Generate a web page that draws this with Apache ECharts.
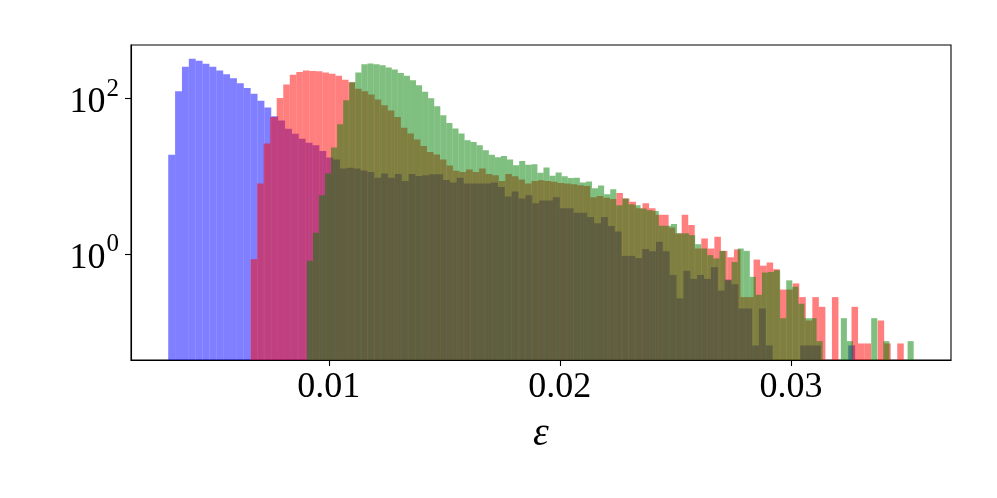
<!DOCTYPE html>
<html>
<head>
<meta charset="utf-8">
<script src="https://cdn.jsdelivr.net/npm/echarts@6/dist/echarts.min.js"></script>
<style>
html, body { margin: 0; padding: 0; background: #fff; }
#chart { width: 997px; height: 498px; }
</style>
</head>
<body>
<div id="chart"></div>
<script>
// three histograms of epsilon, 100 bins each, density on a log axis
const blueStart = 0.003051, blueWidth = 0.0002973
const redStart = 0.006616, redWidth = 0.0002827
const greenStart = 0.009048, greenWidth = 0.00026266

const blueDensity = [
  19.0, 124, 257, 326, 307, 281, 257, 229, 205, 182,
  157, 137, 115, 93.5, 76.7, 59.3, 52.2, 40.9, 35.3, 30.4,
  27.0, 25.0, 21.1, 17.4, 16.5, 12.6, 12.9, 12.6, 11.9, 11.4,
  9.6, 10.9, 9.6, 10.7, 8.7, 10.7, 10.1, 10.3, 10.6, 10.6,
  9.0, 8.3, 9.6, 8.1, 8.1, 8.1, 8.1, 8.3, 7.3, 5.5,
  6.4, 5.2, 5.7, 4.5, 4.9, 4.9, 5.4, 3.9, 3.9, 3.4,
  3.4, 3.0, 2.5, 3.0, 2.3, 1.95, 0.95, 0.95, 0.89, 1.16,
  1.09, 1.44, 1.09, 0.54, 0.27, 0.61, 0.48, 0.54, 0.48, 0.68,
  0.34, 0.47, 0.41, 0.20, 0.20, 0.067, 0.20, 0.067, 0, 0,
  0, 0, 0.067, 0.067, 0.067, 0, 0, 0, 0, 0.067
]
const redDensity = [
  0.86, 8.1, 26.5, 58, 102, 151, 203, 220, 229, 226,
  224, 217, 209, 197, 175, 162, 134, 124, 113, 97,
  82, 70, 58, 42, 35.6, 29.8, 24.5, 20.5, 19.1, 16.5,
  13.8, 11.8, 11.4, 12.2, 11.4, 12.6, 10.7, 10.3, 8.7, 10.7,
  10.0, 9.1, 8.1, 8.7, 8.9, 8.7, 8.5, 8.2, 8.1, 7.9,
  7.7, 7.5, 5.4, 5.6, 5.3, 5.1, 6.1, 5.2, 4.7, 3.9,
  4.5, 3.9, 3.2, 3.2, 2.2, 1.85, 3.2, 2.36, 1.18, 1.59,
  1.18, 1.67, 1.10, 0.91, 1.15, 0.28, 0.28, 0.85, 0.71, 0.78,
  0.64, 0.35, 0.35, 0.42, 0.28, 0.14, 0.28, 0.21, 0, 0.28,
  0, 0, 0.21, 0.071, 0.071, 0, 0.14, 0.071, 0, 0.071
]
const greenDensity = [
  0.82, 1.88, 5.7, 10.9, 23.5, 46.8, 95, 162, 216, 276,
  282, 276, 268, 250, 236, 213, 197, 172, 148, 122,
  101, 79.6, 61, 48.6, 41.2, 35.5, 29.1, 27.7, 25.1, 21.7,
  18.9, 17.6, 18.2, 16.4, 13.9, 15.7, 14.1, 14.3, 11.1, 13.0,
  10.2, 11.2, 10.0, 9.5, 9.6, 8.3, 8.6, 7.0, 7.6, 5.9,
  6.8, 4.26, 5.19, 4.39, 4.26, 3.86, 3.67, 3.57, 2.31, 2.31,
  2.43, 1.85, 1.85, 1.75, 1.34, 1.18, 0.97, 0.88, 1.10, 0.46,
  0.79, 1.18, 1.10, 0.51, 0.30, 0.58, 0.59, 0.62, 0.15, 0.46,
  0.38, 0.23, 0.15, 0.15, 0.076, 0, 0, 0, 0.15, 0.076,
  0, 0, 0, 0.15, 0, 0.076, 0, 0, 0, 0.076
]
const xTicks = [0.01, 0.02, 0.03]
const yTicks = [1, 100]

function toBins(start, width, values) {
  const out = []
  values.forEach((v, i) => {
    if (v > 0) out.push([start + i * width, start + (i + 1) * width, v])
  })
  return out
}

function barRenderer(fill) {
  return function (params, api) {
    const p0 = api.coord([api.value(0), api.value(2)])
    const p1 = api.coord([api.value(1), api.value(2)])
    const cs = params.coordSys
    return {
      type: 'rect',
      shape: { x: p0[0], y: p0[1], width: p1[0] - p0[0], height: cs.y + cs.height - p0[1] },
      style: { fill: fill }
    }
  }
}

function histSeries(data, fill) {
  return {
    type: 'custom', data: data, clip: true,
    encode: { x: [0, 1], y: 2 },
    renderItem: barRenderer(fill),
    silent: true
  }
}

const serif = 'Liberation Serif'
const chart = echarts.init(document.getElementById('chart'))
chart.setOption({
  animation: false,
  grid: { left: 131, right: 46, top: 45, bottom: 138, show: true, borderColor: '#000', borderWidth: 1.1, backgroundColor: 'transparent' },
  xAxis: {
    type: 'value', min: 0.00144, max: 0.03693,
    name: 'ε', nameLocation: 'middle', nameGap: 54,
    nameTextStyle: { fontFamily: serif, fontStyle: 'italic', fontSize: 40, color: '#000' },
    axisLine: { lineStyle: { color: '#000', width: 1.1 } },
    axisTick: { customValues: xTicks, length: 6, lineStyle: { color: '#000', width: 1.1 } },
    axisLabel: { customValues: xTicks, margin: 10, fontFamily: serif, fontSize: 36, color: '#000', formatter: v => v.toFixed(2) },
    splitLine: { show: false }
  },
  yAxis: {
    type: 'log', min: 0.0435, max: 488,
    axisLine: { show: true, lineStyle: { color: '#000', width: 1.1 } },
    axisTick: { show: true, customValues: yTicks, length: 6, lineStyle: { color: '#000', width: 1.1 } },
    axisLabel: {
      customValues: yTicks, margin: 12,
      formatter: v => '{b|10}{s|' + Math.round(Math.log10(v)) + '}',
      rich: {
        b: { fontFamily: serif, fontSize: 36, color: '#000', padding: [8, 1, 0, 0] },
        s: { fontFamily: serif, fontSize: 25, color: '#000', verticalAlign: 'top' }
      }
    },
    splitLine: { show: false },
    minorTick: { show: false }
  },
  series: [
    histSeries(toBins(blueStart, blueWidth, blueDensity), 'rgba(0,0,255,0.5)'),
    histSeries(toBins(redStart, redWidth, redDensity), 'rgba(255,0,0,0.5)'),
    histSeries(toBins(greenStart, greenWidth, greenDensity), 'rgba(0,128,0,0.5)')
  ]
})
</script>
</body>
</html>
